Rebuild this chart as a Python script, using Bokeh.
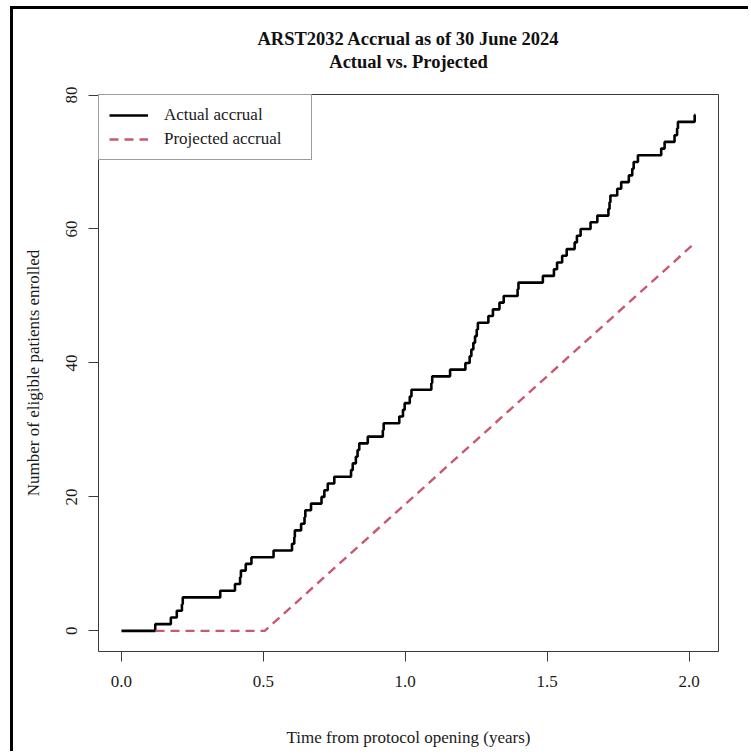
from bokeh.plotting import figure
from bokeh.models import (Range1d, FixedTicker, NumeralTickFormatter, Legend, LegendItem,
                          Title, ColumnDataSource, LinearAxis)
from bokeh.embed import file_html
from bokeh.resources import INLINE

# ---- data ----
step_times = [0.000, 0.119, 0.174, 0.195, 0.213, 0.216, 0.348, 0.400, 0.418, 0.421,
              0.438, 0.458, 0.536, 0.601, 0.609, 0.611, 0.633, 0.645, 0.648, 0.668,
              0.705, 0.715, 0.727, 0.750, 0.809, 0.815, 0.826, 0.832, 0.838, 0.868,
              0.921, 0.924, 0.979, 0.992, 0.998, 1.016, 1.022, 1.092, 1.095, 1.158,
              1.212, 1.227, 1.233, 1.240, 1.246, 1.252, 1.256, 1.293, 1.309, 1.332,
              1.347, 1.396, 1.399, 1.485, 1.524, 1.535, 1.553, 1.569, 1.597, 1.605,
              1.618, 1.653, 1.677, 1.716, 1.720, 1.723, 1.747, 1.761, 1.788, 1.800,
              1.805, 1.820, 1.902, 1.914, 1.949, 1.958, 1.961, 2.020, 2.023]
step_counts = [0, 1, 2, 3, 4, 5, 6, 7, 8, 9,
               10, 11, 12, 13, 14, 15, 16, 17, 18, 19,
               20, 21, 22, 23, 24, 25, 26, 27, 28, 29,
               30, 31, 32, 33, 34, 35, 36, 37, 38, 39,
               40, 41, 42, 43, 44, 45, 46, 47, 48, 49,
               50, 51, 52, 53, 54, 55, 56, 57, 58, 59,
               60, 61, 62, 63, 64, 65, 66, 67, 68, 69,
               70, 71, 72, 73, 74, 75, 76, 77, 77]

proj_times = [0.12, 0.505, 2.023]
proj_counts = [0, 0, 58]

x_ticks = [0.0, 0.5, 1.0, 1.5, 2.0]
y_ticks = [0, 20, 40, 60, 80]

title_line1 = "ARST2032 Accrual as of 30 June 2024"
title_line2 = "Actual vs. Projected"
x_label = "Time from protocol opening (years)"
y_label = "Number of eligible patients enrolled"

FONT = "Liberation Serif"
BOX = "#3a3a3a"

# R-style 4% range expansion
xmax = max(step_times + proj_times)
ymax = max(step_counts + proj_counts)
x_range = Range1d(-0.04 * xmax, xmax * 1.04)
y_range = Range1d(-0.04 * ymax, ymax * 1.04)

p = figure(frame_width=620, frame_height=557,
           x_range=x_range, y_range=y_range,
           min_border_left=85, min_border_right=30,
           min_border_top=85, min_border_bottom=100,
           output_backend="svg", toolbar_location=None, tools="",
           title=None)
p.styles = {"border-left": "3px solid black", "border-top": "3px solid black",
            "margin-left": "10px", "margin-top": "6px"}
p.background_fill_color = "white"
p.border_fill_color = "white"
p.grid.visible = False
p.outline_line_color = BOX
p.outline_line_width = 1
p.outline_line_alpha = 1.0

src = ColumnDataSource(dict(t=step_times, n=step_counts))
r_act = p.step("t", "n", source=src, mode="after", line_color="black", line_width=2.6)
src2 = ColumnDataSource(dict(t=proj_times, n=proj_counts))
r_proj = p.line("t", "n", source=src2, line_color="#C95870", line_width=2.4,
                line_dash="9 6")

xa = p.xaxis[0]
ya = p.yaxis[0]
for ax in (xa, ya):
    ax.axis_line_color = None
    ax.major_tick_line_color = BOX
    ax.major_tick_in = 0
    ax.major_tick_out = 10
    ax.minor_tick_line_color = None
    ax.major_label_text_font = FONT
    ax.major_label_text_font_size = "17px"
    ax.major_label_text_color = "#1a1a1a"
    ax.axis_label_text_font = FONT
    ax.axis_label_text_font_size = "17px"
    ax.axis_label_text_font_style = "normal"
    ax.axis_label_text_color = "#1a1a1a"

xa.ticker = FixedTicker(ticks=x_ticks)
xa.formatter = NumeralTickFormatter(format="0.0")
xa.major_label_standoff = 14
xa.axis_label = x_label
xa.axis_label_standoff = 38

ya.ticker = FixedTicker(ticks=y_ticks)
ya.major_label_orientation = "vertical"
ya.major_label_standoff = 11
ya.axis_label = y_label
ya.axis_label_standoff = 21

legend = Legend(items=[LegendItem(label="Actual accrual", renderers=[r_act]),
                       LegendItem(label="Projected accrual", renderers=[r_proj])],
                location="top_left")
legend.margin = 0
legend.padding = 10
legend.spacing = 4
legend.glyph_width = 39
legend.glyph_height = 20
legend.label_height = 20
legend.label_standoff = 16
legend.label_width = 137
legend.label_text_font = FONT
legend.label_text_font_size = "17px"
legend.label_text_color = "#1a1a1a"
legend.border_line_color = BOX
legend.border_line_width = 1
legend.background_fill_alpha = 1.0
p.add_layout(legend, "center")

# second title line: carried by a bare top axis label (precise standoff)
top = LinearAxis(ticker=FixedTicker(ticks=[]), axis_label=title_line2,
                 axis_line_color=None, major_tick_line_color=None,
                 minor_tick_line_color=None, major_tick_out=0, major_tick_in=0,
                 minor_tick_out=0, minor_tick_in=0, major_label_standoff=0,
                 axis_label_standoff=23, axis_label_text_font=FONT,
                 axis_label_text_font_size="18.5px", axis_label_text_font_style="bold",
                 axis_label_text_color="#111111")
p.add_layout(top, "above")

t1 = Title(text=title_line1, align="center", text_font=FONT,
           text_font_size="18.5px", text_font_style="bold", text_color="#111111",
           standoff=0)
p.add_layout(t1, "above")

open("out.html", "w").write(file_html(p, INLINE))
